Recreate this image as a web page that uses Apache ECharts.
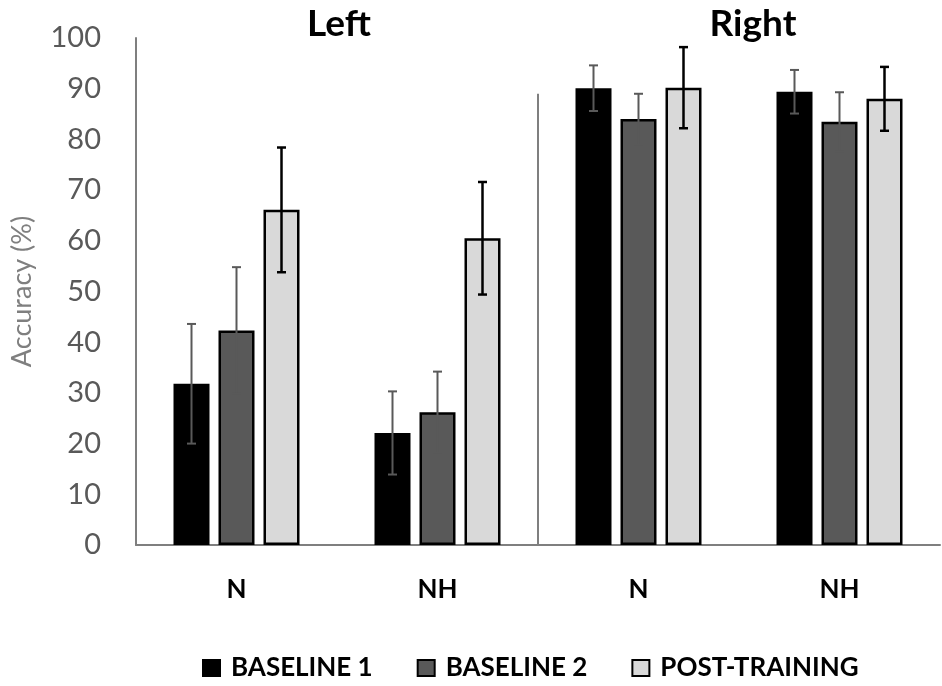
<!DOCTYPE html>
<html>
<head>
<meta charset="utf-8">
<script src="https://cdn.jsdelivr.net/npm/echarts@6/dist/echarts.min.js"></script>
<style>html,body{margin:0;padding:0;background:#fff;}#c{width:942px;height:686px;}</style>
</head>
<body>
<div id="c"></div>
<script>
const categories = ['N', 'NH', 'N ', 'NH '];
const groupTitles = ['Left', 'Right'];
const seriesNames = ['BASELINE 1', 'BASELINE 2', 'POST-TRAINING'];
const baseline1 = [31.8, 22.1, 90.1, 89.4];
const baseline1Err = [11.8, 8.2, 4.5, 4.3];
const baseline2 = [42.3, 26.2, 84.0, 83.5];
const baseline2Err = [12.5, 8.0, 5.0, 5.8];
const postTraining = [66.1, 60.5, 90.2, 88.0];
const postTrainingErr = [12.3, 11.1, 8.0, 6.3];
const yTicks = [0, 10, 20, 30, 40, 50, 60, 70, 80, 90, 100];
const separatorTop = 89;

const values = [baseline1, baseline2, postTraining];
const errs = [baseline1Err, baseline2Err, postTrainingErr];
const fills = ['#000000', '#595959', '#d9d9d9'];
const errColors = ['#595959', '#595959', '#000000'];
const BAR_W = 36, STEP = 45;

const chart = echarts.init(document.getElementById('c'));
const FONT = 'Lato, "Open Sans", sans-serif';

const series = [];
values.forEach((v, i) => {
  series.push({
    name: seriesNames[i], type: 'bar', data: v, barWidth: BAR_W, barGap: '25%',
    itemStyle: { color: fills[i], borderColor: '#000', borderWidth: 2.5 },
    z: 2
  });
});
values.forEach((v, i) => {
  series.push({
    name: seriesNames[i] + ' err', type: 'custom',
    data: v.map((val, k) => [k, val - errs[i][k], val + errs[i][k]]),
    z: 5,
    renderItem: function (params, api) {
      const k = api.value(0);
      const lo = api.coord([k, api.value(1)]);
      const hi = api.coord([k, api.value(2)]);
      const x = lo[0] + (i - 1) * STEP;
      const cap = 4.5;
      const st = { stroke: errColors[i], lineWidth: i === 2 ? 2.5 : 2 };
      return { type: 'group', children: [
        { type: 'line', shape: { x1: x, y1: hi[1], x2: x, y2: lo[1] }, style: st },
        { type: 'line', shape: { x1: x - cap, y1: hi[1], x2: x + cap, y2: hi[1] }, style: st },
        { type: 'line', shape: { x1: x - cap, y1: lo[1], x2: x + cap, y2: lo[1] }, style: st }
      ]};
    }
  });
});

const option = {
  animation: false,
  backgroundColor: '#fff',
  grid: { left: 136, right: 2, top: 38, bottom: 141, containLabel: false },
  legend: {
    data: seriesNames, left: 197, top: 650, icon: 'rect', itemWidth: 17, itemHeight: 16, itemGap: 44,
    textStyle: { fontFamily: FONT, fontWeight: 'bold', fontSize: 26, color: '#000', padding: [0,0,0,6] }
  },
  xAxis: {
    type: 'category', data: categories,
    axisLine: { lineStyle: { color: '#7f7f7f', width: 2 } },
    axisTick: { show: false },
    axisLabel: { margin: 32, fontFamily: FONT, fontWeight: 'bold', fontSize: 26, color: '#000', formatter: s => s.trim() }
  },
  yAxis: {
    type: 'value', min: 0, max: 100, interval: 10,
    name: 'Accuracy (%)', nameLocation: 'middle', nameGap: 100, nameRotate: 90,
    nameTextStyle: { fontFamily: FONT, fontSize: 27, color: '#7f7f7f' },
    axisLine: { show: true, lineStyle: { color: '#7f7f7f', width: 2 } },
    axisTick: { show: false },
    splitLine: { show: false },
    axisLabel: { margin: 35, fontFamily: FONT, fontSize: 29, color: '#595959',
      formatter: v => yTicks.includes(v) ? String(v) : '' }
  },
  series: series
};
chart.setOption(option);

const p1 = chart.convertToPixel({ gridIndex: 0 }, [1, 0]);
const p2 = chart.convertToPixel({ gridIndex: 0 }, [2, separatorTop]);
const p0 = chart.convertToPixel({ gridIndex: 0 }, [0, 0]);
const p3 = chart.convertToPixel({ gridIndex: 0 }, [3, 0]);
const sepX = (p1[0] + p2[0]) / 2;
chart.setOption({
  graphic: [
    { type: 'line', shape: { x1: sepX, y1: p2[1], x2: sepX, y2: p1[1] }, style: { stroke: '#7f7f7f', lineWidth: 2 }, z: 1 },
    { type: 'text', x: (p0[0] + p1[0]) / 2 + 2, y: 24, style: { text: groupTitles[0], font: 'bold 37px ' + FONT, fill: '#000', textAlign: 'center', textVerticalAlign: 'middle' } },
    { type: 'text', x: (p2[0] + p3[0]) / 2 + 14, y: 24, style: { text: groupTitles[1], font: 'bold 37px ' + FONT, fill: '#000', textAlign: 'center', textVerticalAlign: 'middle' } }
  ]
});
</script>
</body>
</html>
